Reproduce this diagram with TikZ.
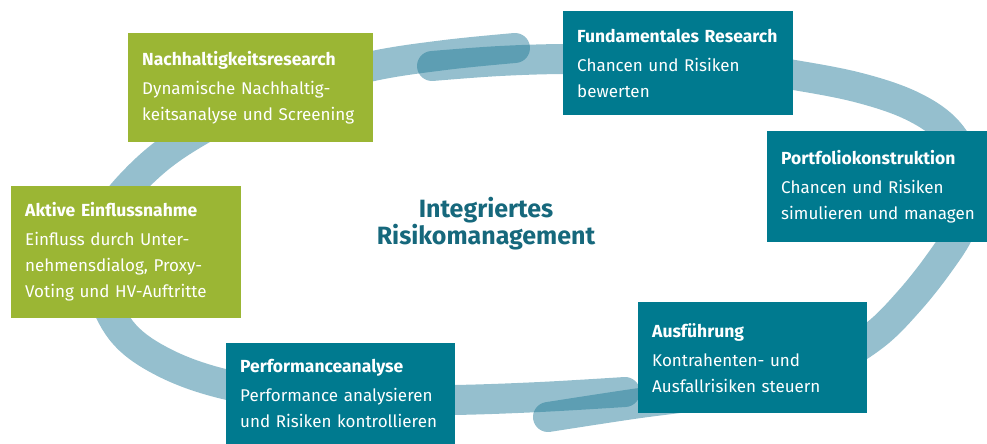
\documentclass[tikz,border=0pt]{standalone}
\usepackage{fontspec}
\setmainfont{Fira Sans}
\usepackage{tikz}
\usetikzlibrary{positioning}
\definecolor{esggreen}{RGB}{155,182,52}
\definecolor{riskteal}{RGB}{0,122,143}
\definecolor{ringblue}{RGB}{30,120,150}
\definecolor{titleteal}{RGB}{22,104,124}
\newcommand{\phasehead}[1]{{\fontsize{17.5}{26}\selectfont\bfseries #1}\\[3pt]}
\tikzset{
  ring/.style={draw=ringblue,draw opacity=0.47,line width=30pt,line cap=round},
  phase/.style={anchor=north west,inner xsep=14pt,inner ysep=0pt,align=left,
                text=white,font=\fontsize{17}{26}\selectfont},
  esg/.style={phase,fill=esggreen},
  core/.style={phase,fill=riskteal},
  centre/.style={align=center,text=titleteal,font=\fontsize{25}{25}\selectfont\bfseries},
}

\begin{document}
\begin{tikzpicture}[x=1pt,y=-1pt]
  \path[use as bounding box] (0,0) rectangle (987,444);

  % the two overlapping halves of the ring
  \draw[ring] plot[smooth,tension=0.6] coordinates {
    (625,392) (540,397) (454,400) (370,400) (290,395) (220,383) (165,363)
    (125,335) (103,295) (98,255) (108,215) (135,180) (175,146) (235,112)
    (300,86) (373,66) (445,55) (515,48)};
  \draw[ring] plot[smooth,tension=0.6] coordinates {
    (432,66) (500,61) (570,59) (650,61) (730,66) (800,76) (860,88) (910,105)
    (945,128) (965,160) (970,195) (960,230) (940,262) (910,300) (875,335)
    (830,362) (770,382) (700,395) (633,404) (548,417)};

  \node[centre] (mid) at (486,224) {Integriertes\\Risikomanagement};

  \node[esg,text width=217pt,minimum height=109pt] (nach) at (128,33)
    {\phasehead{Nachhaltigkeitsresearch}Dynamische Nachhaltig-\\keitsanalyse und Screening};
  \node[core,text width=202pt,minimum height=104pt] (fund) at (563,11)
    {\phasehead{Fundamentales Research}Chancen und Risiken\\bewerten};
  \node[core,text width=215pt,minimum height=111pt] (port) at (767,131)
    {\phasehead{Portfoliokonstruktion}Chancen und Risiken\\simulieren und managen};
  \node[esg,text width=202pt,minimum height=132pt] (akt) at (11,186)
    {\phasehead{Aktive Einflussnahme}Einfluss durch Unter-\\nehmensdialog, Proxy-\\Voting und HV-Auftritte};
  \node[core,text width=201pt,minimum height=101pt] (perf) at (226,343)
    {\phasehead{Performanceanalyse}Performance analysieren\\und Risiken kontrollieren};
  \node[core,text width=201pt,minimum height=111pt] (ausf) at (638,302)
    {\phasehead{Ausführung}Kontrahenten- und\\Ausfallrisiken steuern};
\end{tikzpicture}
\end{document}
